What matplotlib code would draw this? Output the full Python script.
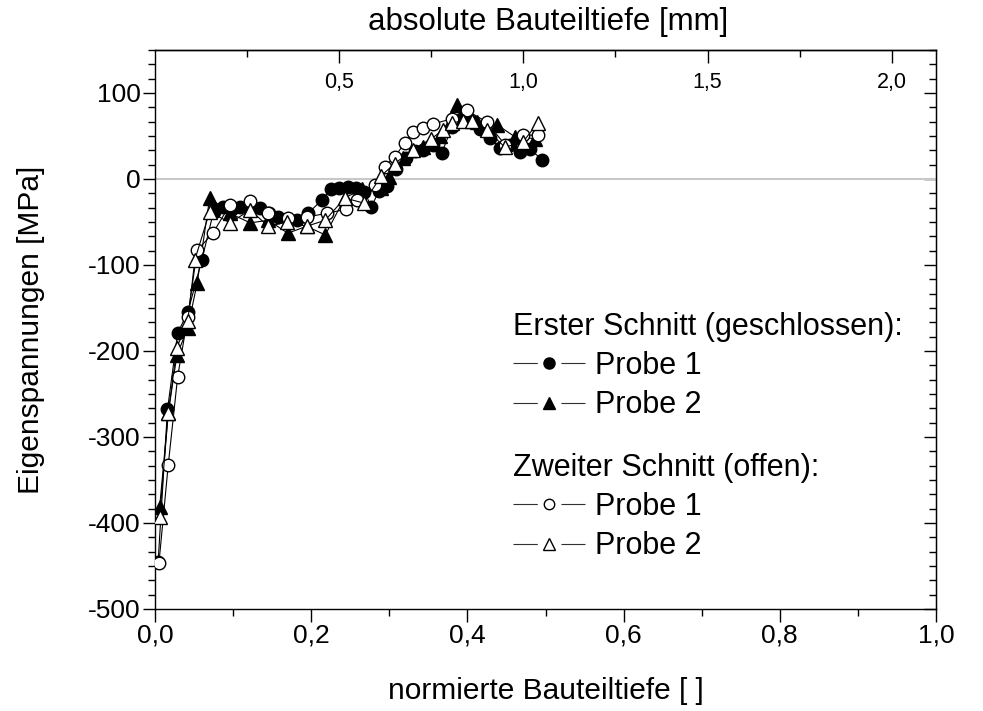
import matplotlib
matplotlib.use("Agg")
import matplotlib.pyplot as plt
from matplotlib.ticker import MultipleLocator, FuncFormatter, FixedLocator
from matplotlib.lines import Line2D

plt.rcParams['font.family'] = ['Liberation Sans', 'DejaVu Sans']
plt.rcParams['lines.scale_dashes'] = False

# Erster Schnitt (geschlossen), Probe 1
x_p1_closed = [0.004, 0.016, 0.029, 0.042, 0.060, 0.075, 0.087, 0.099, 0.109, 0.122, 0.134,
               0.146, 0.158, 0.170, 0.182, 0.196, 0.214, 0.225, 0.235, 0.247, 0.258, 0.268,
               0.277, 0.287, 0.297, 0.309, 0.321, 0.333, 0.343, 0.356, 0.367, 0.380, 0.392,
               0.404, 0.416, 0.429, 0.442, 0.455, 0.467, 0.480, 0.496]
y_p1_closed = [-445, -268, -179, -155, -94, -38, -33, -35, -33, -36, -34,
               -40, -44, -46, -48, -40, -24, -12, -10, -9, -11, -15,
               -32, -14, -8, 12, 25, 32, 34, 40, 30, 60, 70,
               68, 58, 48, 36, 40, 31, 35, 22]

# Erster Schnitt (geschlossen), Probe 2
x_p2_closed = [0.006, 0.017, 0.028, 0.042, 0.054, 0.070, 0.096, 0.122, 0.145, 0.170, 0.194,
               0.218, 0.243, 0.265, 0.290, 0.300, 0.318, 0.343, 0.365, 0.387, 0.412, 0.438,
               0.461, 0.486]
y_p2_closed = [-381, -272, -205, -173, -121, -22, -40, -51, -48, -63, -55,
               -65, -22, -12, -10, 2, 25, 37, 50, 86, 66, 63,
               49, 47]

# Zweiter Schnitt (offen), Probe 1
x_p1_open = [0.005, 0.017, 0.029, 0.042, 0.054, 0.074, 0.096, 0.122, 0.145, 0.170, 0.195,
             0.220, 0.245, 0.259, 0.282, 0.294, 0.307, 0.320, 0.330, 0.343, 0.356, 0.380,
             0.399, 0.425, 0.448, 0.471, 0.490]
y_p1_open = [-447, -332, -230, -160, -83, -63, -30, -26, -40, -45, -44,
             -40, -35, -24, -7, 14, 26, 42, 55, 59, 64, 70,
             80, 66, 40, 51, 51]

# Zweiter Schnitt (offen), Probe 2
x_p2_open = [0.006, 0.017, 0.028, 0.042, 0.051, 0.070, 0.096, 0.122, 0.145, 0.169, 0.194,
             0.218, 0.243, 0.267, 0.290, 0.307, 0.330, 0.354, 0.369, 0.380, 0.395, 0.406,
             0.425, 0.448, 0.471, 0.490]
y_p2_open = [-393, -272, -196, -165, -94, -38, -51, -36, -55, -50, -55,
             -48, -22, -28, 4, 18, 34, 47, 57, 65, 68, 68,
             57, 37, 43, 65]

thickness_mm = 2.12  # normierte Tiefe 1,0 entspricht dieser Bauteiltiefe
mm_labels = [0.5, 1.0, 1.5, 2.0]
mm_minor = [0.25, 0.75, 1.25, 1.75]

fs_tick = 19
fs_label = 21.5
fs_leg = 22
comma = FuncFormatter(lambda v, pos: f"{v:.1f}".replace('.', ','))

fig = plt.figure(figsize=(9.83, 7.11), dpi=100)
ax = fig.add_axes([155/983, 1 - 609/711, 781/983, 559/711])

ax.axhline(0, color='#c8c8c8', lw=1.5, zorder=1)

ax.plot(x_p1_closed, y_p1_closed, '-', color='black', lw=0.8, marker='o', ms=9,
        mfc='black', mec='black', mew=1, zorder=3)
ax.plot(x_p2_closed, y_p2_closed, '-', color='black', lw=0.8, marker='^', ms=10,
        mfc='black', mec='black', mew=1, zorder=4)
ax.plot(x_p1_open, y_p1_open, '-', color='black', lw=0.8, marker='o', ms=9,
        mfc='white', mec='black', mew=1, zorder=5)
ax.plot(x_p2_open, y_p2_open, '-', color='black', lw=0.8, marker='^', ms=10,
        mfc='white', mec='black', mew=1, zorder=6)

ax.set_xlim(0, 1.0)
ax.set_ylim(-500, 150)
ax.xaxis.set_major_locator(MultipleLocator(0.2))
ax.xaxis.set_minor_locator(MultipleLocator(0.1))
ax.xaxis.set_major_formatter(comma)
ax.yaxis.set_major_locator(MultipleLocator(100))
ax.yaxis.set_minor_locator(MultipleLocator(100 / 6))
ax.yaxis.set_major_formatter(FuncFormatter(lambda v, pos: f"{int(round(v))}"))
ax.tick_params(which='both', direction='out', top=False, right=False, width=1.0,
               labelsize=fs_tick)
ax.tick_params(which='major', length=9, pad=1.5)
ax.tick_params(which='minor', length=5)
for s in ax.spines.values():
    s.set_linewidth(1.0)

# rechte Achse: nur Striche nach innen
axr = ax.secondary_yaxis('right')
axr.yaxis.set_major_locator(MultipleLocator(100))
axr.yaxis.set_minor_locator(MultipleLocator(100 / 6))
axr.tick_params(which='both', direction='in', labelright=False, width=1.0)
axr.tick_params(which='major', length=9)
axr.tick_params(which='minor', length=5)

# obere Achse: absolute Bauteiltiefe in mm
axt = ax.secondary_xaxis('top', functions=(lambda v: v * thickness_mm,
                                           lambda v: v / thickness_mm))
axt.xaxis.set_major_locator(FixedLocator(mm_labels))
axt.xaxis.set_minor_locator(FixedLocator(mm_minor))
axt.xaxis.set_major_formatter(comma)
axt.tick_params(which='both', direction='in', width=1.0)
axt.tick_params(which='major', length=9, pad=-31, labelsize=15.5)
axt.tick_params(which='minor', length=5)
axt.spines['top'].set_linewidth(1.0)

fig.text(548/983, 1 - 22/711, 'absolute Bauteiltiefe [mm]', ha='center', va='center',
         fontsize=22.5)

ax.set_xlabel('normierte Bauteiltiefe [ ]', fontsize=fs_label)
ax.xaxis.set_label_coords(0.5, (609 - 677) / 559)
ax.xaxis.label.set_va('top')
ax.set_ylabel('Eigenspannungen [MPa]', fontsize=fs_label)
ax.yaxis.set_label_coords((45 - 155) / 781, 0.5)

def leg_handles(mfc, marker, ms):
    ln = Line2D([], [], color='#303030', lw=0.8, dashes=(17.5, 17, 17.5, 200))
    mk = Line2D([], [], ls='none', marker=marker, ms=ms, mfc=mfc, mec='black', mew=1)
    return (ln, mk)

leg_kw = dict(frameon=False, fontsize=fs_leg, title_fontsize=fs_leg, alignment='left',
              loc='upper left', handlelength=2.35, handletextpad=0.33, labelspacing=0.3,
              borderpad=0, borderaxespad=0)

leg1 = ax.legend([leg_handles('black', 'o', 8), leg_handles('black', '^', 8.5)],
                 ['Probe 1', 'Probe 2'], title='Erster Schnitt (geschlossen):',
                 bbox_to_anchor=((513 - 155) / 781, (609 - 312) / 559), **leg_kw)
ax.add_artist(leg1)
ax.legend([leg_handles('white', 'o', 7.5), leg_handles('white', '^', 8.5)],
          ['Probe 1', 'Probe 2'], title='Zweiter Schnitt (offen):',
          bbox_to_anchor=((513 - 155) / 781, (609 - 453) / 559), **leg_kw)

fig.savefig('out.png', dpi=100)
